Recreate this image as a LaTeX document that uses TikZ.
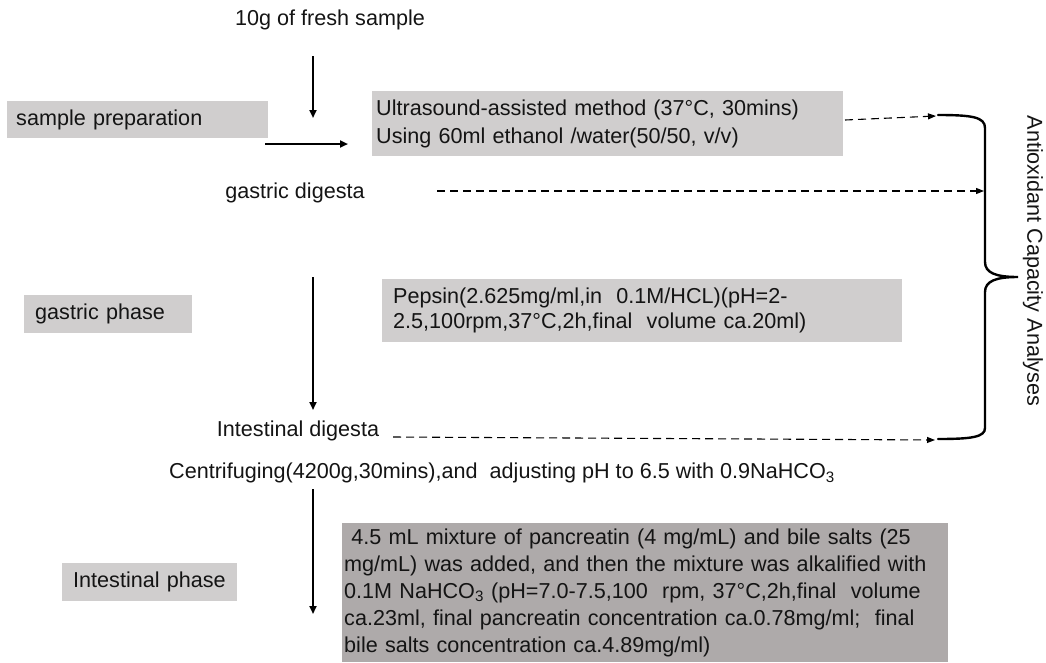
\documentclass[tikz,border=0pt]{standalone}
\usepackage{fontspec}
\setmainfont{Liberation Sans}
\usetikzlibrary{arrows.meta}
\definecolor{boxlight}{RGB}{208,206,206}
\definecolor{boxdark}{RGB}{174,170,170}
\definecolor{txt}{RGB}{20,20,20}
\begin{document}
\begin{tikzpicture}[x=1pt,y=-1pt,
  every node/.style={font=\fontsize{21.6}{27}\selectfont, text=txt},
  lbox/.style={fill=boxlight, anchor=north west, align=left, inner ysep=0pt},
  dbox/.style={fill=boxdark, anchor=north west, align=left, inner ysep=0pt},
  plain/.style={inner sep=0pt},
  solidarrow/.style={line width=2pt, -{Triangle[length=8pt,width=7pt]}},
  dasharrow/.style={line width=1.1pt, dash pattern=on 8pt off 5pt, -{Triangle[length=8pt,width=6pt]}},
  bracestyle/.style={line width=2.4pt, line cap=round}
]
\useasboundingbox (0,0) rectangle (1046,662);

% boxes
\node[lbox, inner xsep=9pt, text width=243pt, minimum height=37pt] (prep) at (7,101) {sample preparation};
\node[lbox, inner xsep=4pt, text width=463pt, minimum height=65pt,
      font=\fontsize{21.6}{28}\selectfont] (ultra) at (372,91)
  {\mbox{Ultrasound-assisted method (37°C, 30mins)}\\\mbox{Using 60ml ethanol /water(50/50, v/v)}};
\node[lbox, inner xsep=11pt, text width=146pt, minimum height=38pt] (gphase) at (24,295) {gastric phase};
\node[lbox, inner xsep=11pt, text width=498pt, minimum height=63pt,
      font=\fontsize{21.6}{25}\selectfont] (pepsin) at (382,279)
  {\mbox{Pepsin(2.625mg/ml,in\ \ 0.1M/HCL)(pH=2-}\\\mbox{2.5,100rpm,37°C,2h,final\ \ volume ca.20ml)}};
\node[lbox, inner xsep=11pt, text width=153pt, minimum height=38pt] (iphase) at (62,563) {Intestinal phase};
\node[dbox, inner xsep=2pt, text width=602pt, minimum height=139pt] (big) at (342,523)
  {\mbox{\ 4.5 mL mixture of pancreatin (4 mg/mL) and bile salts (25}\\
   \mbox{mg/mL) was added, and then the mixture was alkalified with}\\
   \mbox{0.1M NaHCO\textsubscript{3} (pH=7.0-7.5,100\ \ rpm, 37°C,2h,final\ \ volume}\\
   \mbox{ca.23ml, final pancreatin concentration ca.0.78mg/ml;\ \ final}\\
   \mbox{bile salts concentration ca.4.89mg/ml)}};

% plain texts
\node[plain] (fresh) at (330,20) {10g of fresh sample};
\node[plain] (gdig) at (295,193) {gastric digesta};
\node[plain] (idig) at (298,431) {Intestinal digesta};
\node[plain] (centr) at (502,473) {Centrifuging(4200g,30mins),and\ \ adjusting pH to 6.5 with 0.9NaHCO\textsubscript{3}};
\node[plain, rotate=-90] (aca) at (1033,261) {Antioxidant Capacity Analyses};

% coordinates
\coordinate (p1) at (313,56);
\coordinate (p2) at (313,118);
\coordinate (p3) at (265,144);
\coordinate (p4) at (348,144);
\coordinate (p5) at (313,277);
\coordinate (p6) at (313,410);
\coordinate (p7) at (313,489);
\coordinate (p8) at (313,614);
\coordinate (d1s) at (845,120);
\coordinate (d1e) at (936,116);
\coordinate (d2s) at (437,191);
\coordinate (d2e) at (984,191);
\coordinate (d3s) at (393,437);
\coordinate (d3e) at (935,440);
\coordinate (btop) at (938,115);
\coordinate (btip) at (1018,277);
\coordinate (bbot) at (938,439);

% solid arrows
\draw[solidarrow] (p1) -- (p2);
\draw[solidarrow] (p3) -- (p4);
\draw[solidarrow] (p5) -- (p6);
\draw[solidarrow] (p7) -- (p8);

% dashed arrows
\draw[dasharrow] (d1s) -- (d1e);
\draw[dasharrow] (d2s) -- (d2e);
\draw[dasharrow] (d3s) -- (d3e);

% brace
\draw[bracestyle] (btop) .. controls (972,115) and (985,117) .. (985,128)
  -- (985,262) .. controls (985,273) and (996,277) .. (btip)
  .. controls (996,277) and (985,281) .. (985,292)
  -- (985,428) .. controls (985,437) and (972,439) .. (bbot);
\end{tikzpicture}
\end{document}
